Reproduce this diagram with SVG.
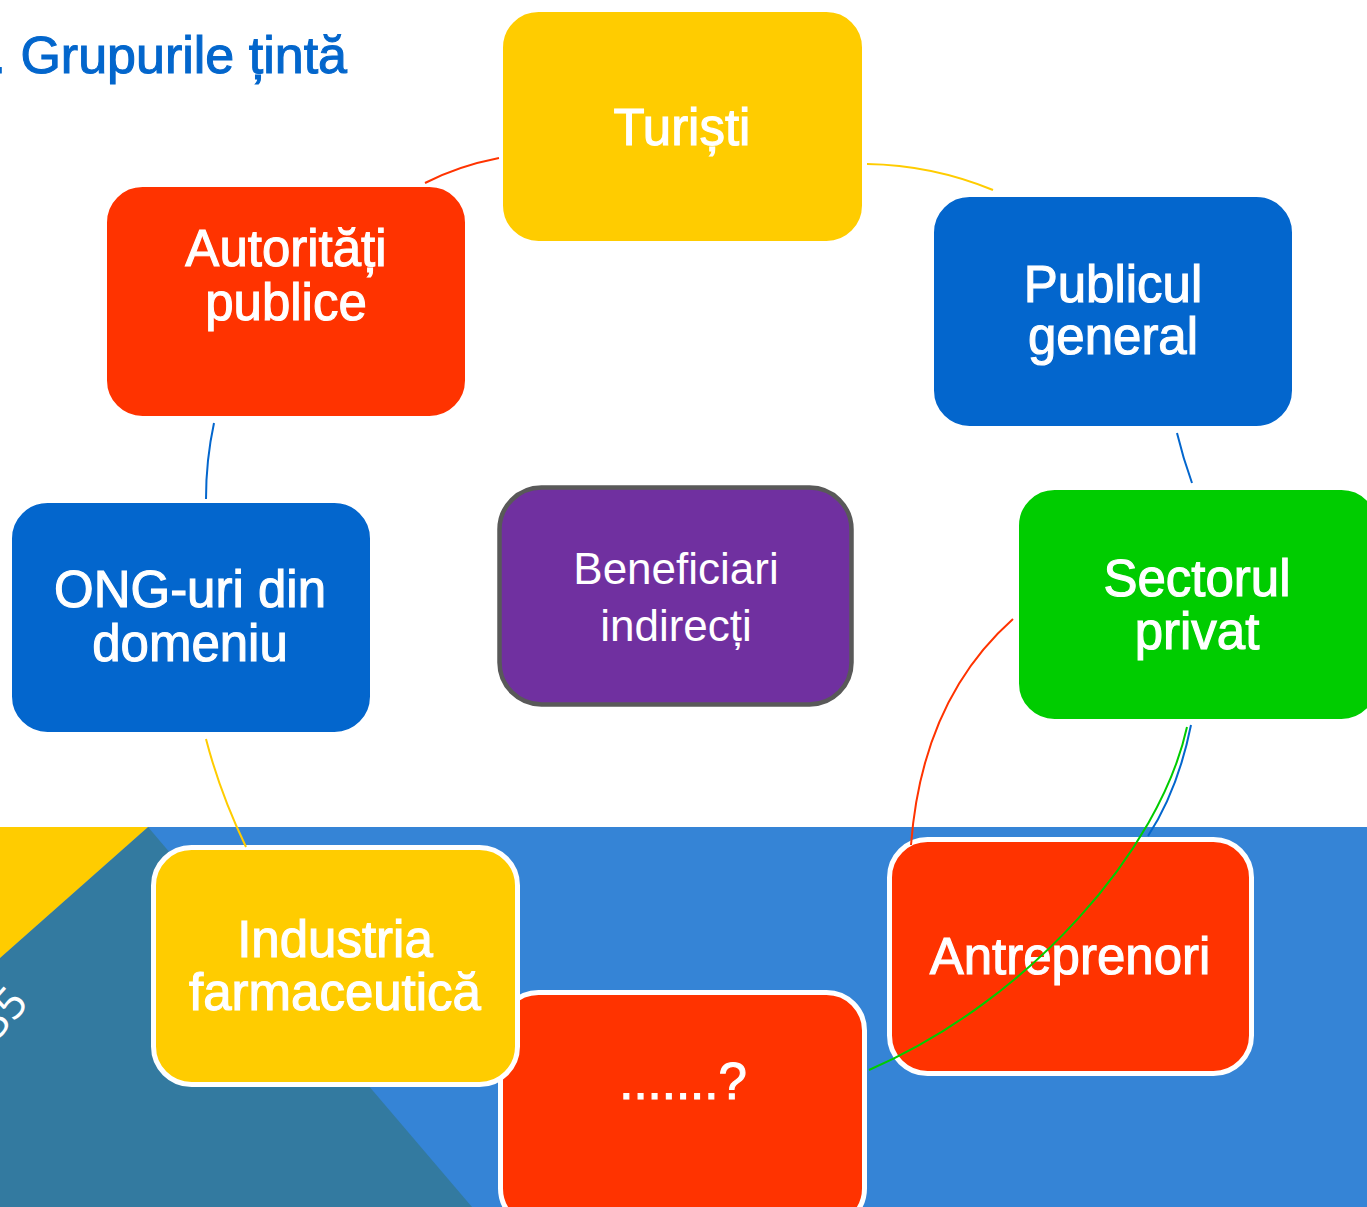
<svg xmlns="http://www.w3.org/2000/svg" width="1367" height="1207" viewBox="0 0 1367 1207">
<style>
.node{stroke:#FFFFFF;stroke-width:5}
.lbl{font-family:"Liberation Sans",Arial,sans-serif;font-size:51px;fill:#FFFFFF;stroke:#FFFFFF;stroke-width:1.1;text-anchor:middle}
.lbl2{font-family:"Liberation Sans",Arial,sans-serif;font-size:44px;fill:#FFFFFF;text-anchor:middle}
.c{fill:none;stroke-width:2}
</style>
<rect x="0" y="0" width="1367" height="1207" fill="#FFFFFF"/>
<g id="background">
<rect x="0" y="827" width="1367" height="380" fill="#3584D6"/>
<polygon points="148,827 472,1207 0,1207 0,958" fill="#337AA0"/>
<polygon points="0,827 148,827 0,958" fill="#FFCC00"/>
<text x="-22" y="1030" transform="rotate(-48 0 1015)" font-family="Open Sans, Liberation Sans, sans-serif" font-size="44" fill="#FFFFFF">35</text>
</g>
<text id="title" x="347" y="73" font-family="Liberation Sans, Arial, sans-serif" font-size="52" fill="#0366CC" stroke="#0366CC" stroke-width="1.1" text-anchor="end">1. Grupurile țintă</text>
<g id="node-turisti">
<rect class="node" x="500.5" y="9.5" width="364" height="234" rx="38" fill="#FFCC00"/>
<text class="lbl" x="682" y="145">Turiști</text>
</g>
<g id="node-publicul">
<rect class="node" x="931.5" y="194.5" width="363" height="234" rx="38" fill="#0366CD"/>
<text class="lbl" x="1113" y="302">Publicul</text>
<text class="lbl" x="1113" y="354">general</text>
</g>
<g id="node-sectorul">
<rect class="node" x="1016.5" y="487.5" width="363" height="234" rx="38" fill="#00CC00"/>
<text class="lbl" x="1197" y="596">Sectorul</text>
<text class="lbl" x="1197" y="649">privat</text>
</g>
<g id="node-antreprenori">
<rect class="node" x="889.5" y="839.5" width="362" height="234" rx="38" fill="#FF3300"/>
<text class="lbl" x="1070" y="974">Antreprenori</text>
</g>
<g id="node-intrebare">
<rect class="node" x="500.5" y="992.5" width="364" height="234" rx="38" fill="#FF3300"/>
<text class="lbl" x="683" y="1099">.......?</text>
</g>
<g id="node-industria">
<rect class="node" x="153.5" y="847.5" width="364" height="237" rx="38" fill="#FFCC00"/>
<text class="lbl" x="335" y="957">Industria</text>
<text class="lbl" x="335" y="1010">farmaceutică</text>
</g>
<g id="node-ong">
<rect class="node" x="9.5" y="500.5" width="363" height="234" rx="38" fill="#0366CD"/>
<text class="lbl" x="190" y="607">ONG-uri din</text>
<text class="lbl" x="190" y="661">domeniu</text>
</g>
<g id="node-autoritati">
<rect class="node" x="104.5" y="184.5" width="363" height="234" rx="38" fill="#FF3300"/>
<text class="lbl" x="286" y="266">Autorități</text>
<text class="lbl" x="286" y="320">publice</text>
</g>
<g id="node-beneficiari">
<rect x="499.5" y="487.5" width="352" height="217" rx="42" fill="#7030A0" stroke="#595959" stroke-width="4.5"/>
<text class="lbl2" x="676" y="584">Beneficiari</text>
<text class="lbl2" x="676" y="641">indirecți</text>
</g>
<g id="connectors">
<path class="c" stroke="#FF3300" d="M425,183 Q458,166 499,158"/>
<path class="c" stroke="#FFCC00" d="M867,164 Q932,165 993,190"/>
<path class="c" stroke="#0366CD" d="M1177,433 Q1183,458 1192,483"/>
<path class="c" stroke="#0366CD" d="M1191,725 Q1178,790 1148,836"/>
<path class="c" stroke="#00CC00" d="M1187,727 C1160,850 1030,1000 869,1070"/>
<path class="c" stroke="#FF3300" stroke-width="1.6" d="M911,845 Q922,700 1013,619"/>
<path class="c" stroke="#FFCC00" d="M246,847 Q220,793 206,739"/>
<path class="c" stroke="#0366CD" d="M206,499 Q206,460 214,423"/>
</g>
</svg>
